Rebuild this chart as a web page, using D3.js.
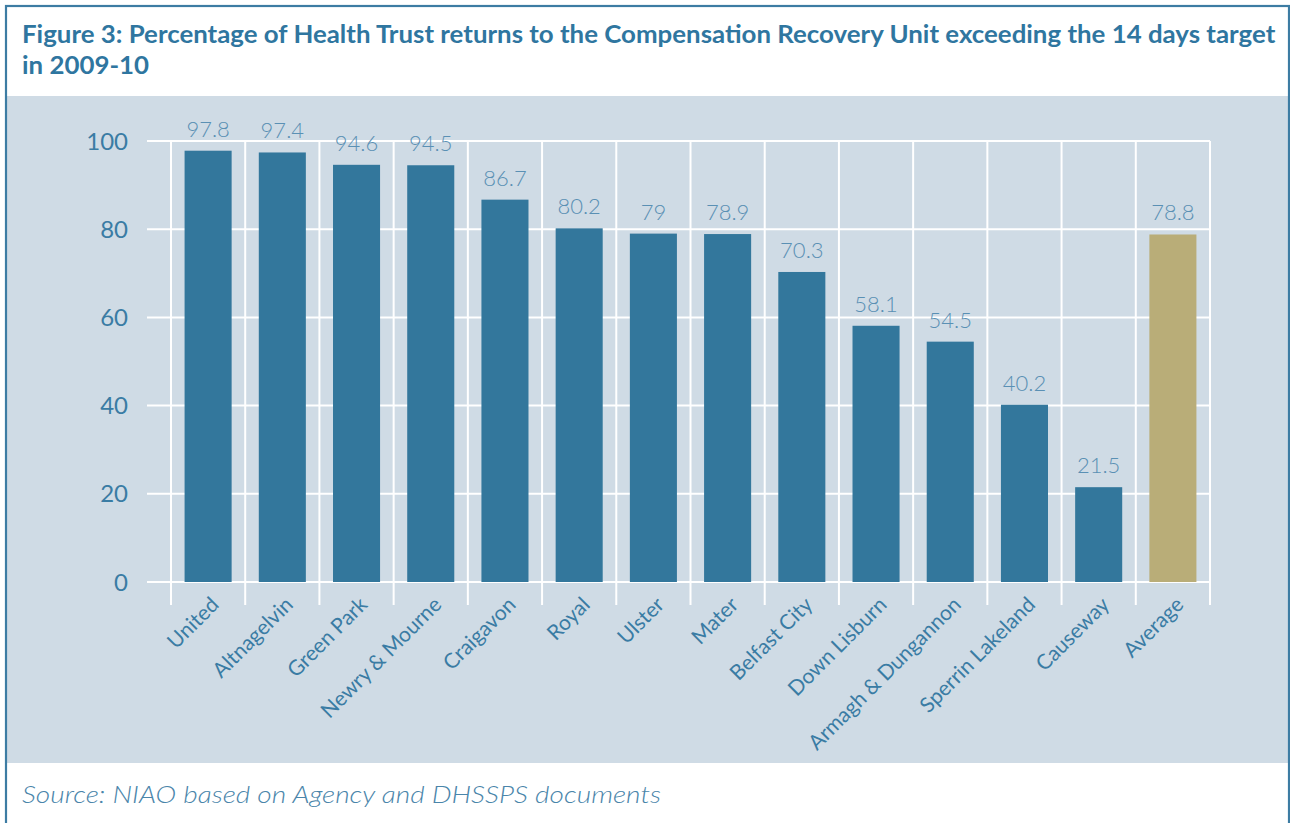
<!DOCTYPE html>
<html>
<head>
<meta charset="utf-8">
<script src="https://cdn.jsdelivr.net/npm/d3@7"></script>
<style>
  body { margin: 0; background: #fff; }
  svg { display: block; font-family: Lato, "Open Sans", sans-serif; }
</style>
</head>
<body>
<div id="chart"></div>
<script>
// data
const categories = ["United", "Altnagelvin", "Green Park", "Newry & Mourne", "Craigavon", "Royal",
  "Ulster", "Mater", "Belfast City", "Down Lisburn", "Armagh & Dungannon", "Sperrin Lakeland",
  "Causeway", "Average"];
const values = [97.8, 97.4, 94.6, 94.5, 86.7, 80.2, 79, 78.9, 70.3, 58.1, 54.5, 40.2, 21.5, 78.8];
const yTicks = [0, 20, 40, 60, 80, 100];
const titleLines = ["Figure 3: Percentage of Health Trust returns to the Compensation Recovery Unit exceeding the 14 days target",
  "in 2009-10"];
const source = "Source: NIAO based on Agency and DHSSPS documents";

const W = 1290, H = 823;
const blue = "#33779c", gold = "#b9ad78", textBlue = "#3a7ca4", labelBlue = "#5a90b4";

let svg = d3.select("#chart").append("svg")
  .attr("width", W).attr("height", H);

// grey panel + frame
svg.append("rect").attr("x", 7).attr("y", 96).attr("width", W - 8).attr("height", 667)
  .attr("fill", "#cfdbe5");
svg.append("rect").attr("x", 6).attr("y", 6).attr("width", W - 7).attr("height", H + 20)
  .attr("fill", "none").attr("stroke", "#3d7ca3").attr("stroke-width", 2.2);

// title, squeezed horizontally to fill the line like the condensed original
let title = svg.append("g");
title.selectAll("text").data(titleLines).join("text")
  .attr("x", 0).attr("y", (d, i) => 43 + i * 31)
  .attr("font-size", 25).attr("font-weight", 700).attr("fill", "#2f76a0")
  .text(d => d);
let tw = title.select("text").node().getComputedTextLength();
title.attr("transform", `translate(22,0) scale(${1254 / tw},1)`);

const x = d3.scaleBand().domain(categories).range([171, 1210]);
const y = d3.scaleLinear().domain([0, 100]).range([582, 141]);
const barW = x.bandwidth() * 0.634;

let plot = svg.append("g");

// horizontal grid
plot.selectAll("line.h").data(yTicks).join("line")
  .attr("class", "h")
  .attr("x1", 147).attr("x2", x.range()[1])
  .attr("y1", d => y(d)).attr("y2", d => y(d))
  .attr("stroke", "#fff").attr("stroke-width", 2);

// vertical grid at category boundaries, running down as ticks
let bounds = categories.map(c => x(c)).concat([x.range()[1]]);
plot.selectAll("line.v").data(bounds).join("line")
  .attr("class", "v")
  .attr("x1", d => d).attr("x2", d => d)
  .attr("y1", y(100)).attr("y2", y(0) + 23)
  .attr("stroke", "#fff").attr("stroke-width", 2);

// y labels
plot.selectAll("text.yt").data(yTicks).join("text")
  .attr("class", "yt")
  .attr("x", 128).attr("y", d => y(d))
  .attr("dy", "0.36em").attr("text-anchor", "end")
  .attr("font-size", 24).attr("fill", textBlue)
  .text(d => d);

// bars
plot.selectAll("rect.bar").data(values).join("rect")
  .attr("class", "bar")
  .attr("x", (d, i) => x(categories[i]) + (x.bandwidth() - barW) / 2)
  .attr("width", barW)
  .attr("y", d => y(d))
  .attr("height", d => y(0) - y(d))
  .attr("fill", (d, i) => categories[i] === "Average" ? gold : blue);

// value labels
plot.selectAll("text.val").data(values).join("text")
  .attr("class", "val")
  .attr("x", (d, i) => x(categories[i]) + x.bandwidth() / 2)
  .attr("y", d => y(d) - 14)
  .attr("text-anchor", "middle")
  .attr("font-size", 22).attr("font-weight", 300).attr("fill", labelBlue)
  .text(d => String(d));

// category labels rotated
plot.selectAll("text.cat").data(categories).join("text")
  .attr("class", "cat")
  .attr("transform", d => `translate(${x(d) + x.bandwidth() / 2 + 12},${y(0) + 24}) rotate(-45)`)
  .attr("text-anchor", "end")
  .attr("font-size", 21).attr("fill", textBlue)
  .text(d => d);

// source
svg.append("text")
  .attr("x", 22).attr("y", 803)
  .attr("font-size", 23).attr("font-style", "italic").attr("font-weight", 300)
  .attr("fill", "#4a85aa")
  .attr("textLength", 639).attr("lengthAdjust", "spacingAndGlyphs")
  .text(source);
</script>
</body>
</html>
